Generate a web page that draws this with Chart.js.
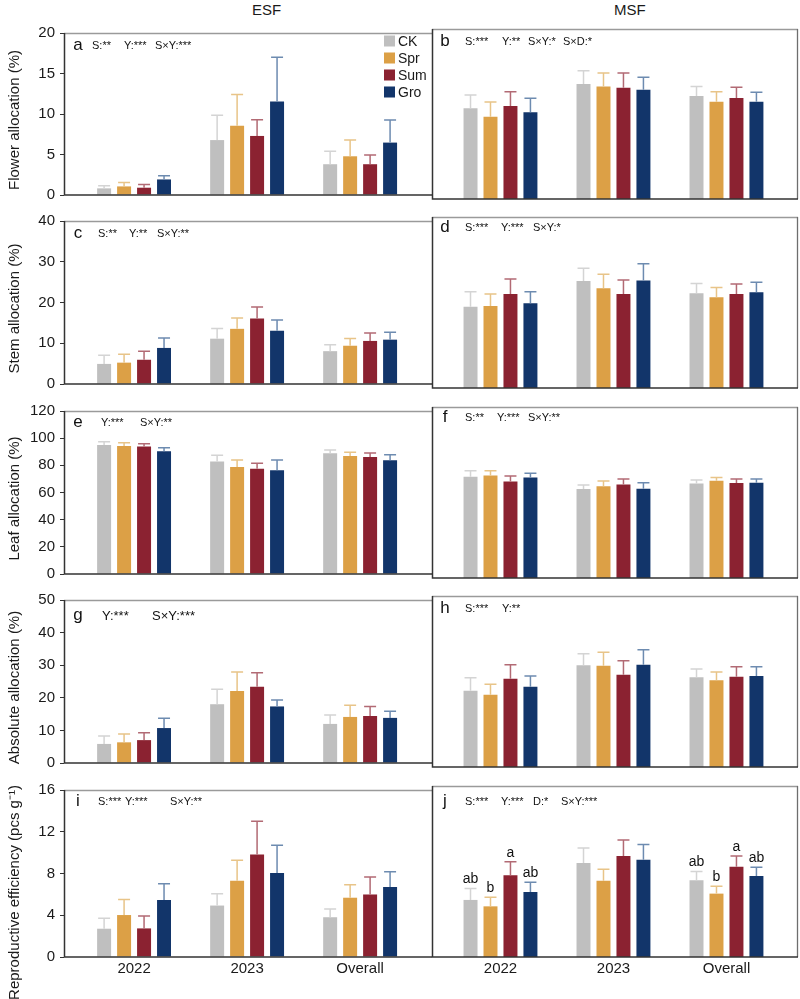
<!DOCTYPE html>
<html>
<head>
<meta charset="utf-8">
<script src="https://cdn.jsdelivr.net/npm/chart.js@4.4.1/dist/chart.umd.min.js"></script>
<style>
  body { margin: 0; background: #fff; width: 800px; height: 999px; position: relative; overflow: hidden;
         font-family: "Liberation Sans", Arial, sans-serif; }
  canvas { position: absolute; }
  .hdr { position: absolute; top: 1px; font-size: 15px; color: #1a1a1a; }
</style>
</head>
<body>
<div class="hdr" style="left:252px">ESF</div>
<div class="hdr" style="left:614px">MSF</div>
<script>
const years = ['2022', '2023', 'Overall'];
const treatments = ['CK', 'Spr', 'Sum', 'Gro'];
const barColors = ['#bfbfbf', '#dca046', '#8b2231', '#12356a'];
const errColors = ['#d4d4d4', '#e8c488', '#b26a74', '#6d8bb0'];

// rows of every array: CK, Spr, Sum, Gro ; columns: 2022, 2023, Overall
// a - flower allocation, ESF
const aMean = [[0.82, 6.78, 3.80], [1.06, 8.55, 4.78], [0.90, 7.29, 3.80], [1.92, 11.53, 6.47]];
const aErr  = [[0.32, 3.06, 1.61], [0.47, 3.85, 2.00], [0.39, 2.00, 1.14], [0.47, 5.47, 2.78]];
// b - flower allocation, MSF
const bMean = [[10.67, 13.53, 12.12], [9.69, 13.25, 11.45], [10.94, 13.10, 11.88], [10.20, 12.86, 11.45]];
const bErr  = [[1.57, 1.57, 1.13], [1.72, 1.57, 1.18], [1.69, 1.72, 1.26], [1.64, 1.45, 1.10]];
// c - stem allocation, ESF
const cMean = [[4.93, 11.12, 8.06], [5.24, 13.54, 9.39], [5.95, 16.05, 10.57], [8.85, 13.07, 10.88]];
const cErr  = [[2.12, 2.50, 1.57], [2.04, 2.66, 1.80], [2.11, 2.82, 1.95], [2.42, 2.66, 1.80]];
// d - stem allocation, MSF
const dMean = [[19.02, 25.05, 22.15], [19.18, 23.33, 21.21], [22.00, 22.00, 22.00], [19.80, 25.13, 22.39]];
const dErr  = [[3.52, 2.97, 2.27], [2.82, 3.28, 2.27], [3.52, 3.28, 2.34], [2.74, 3.91, 2.35]];
// e - leaf allocation, ESF
const eMean = [[95.0, 82.8, 88.9], [94.3, 78.8, 86.8], [93.8, 77.4, 86.1], [90.3, 76.3, 83.7]];
const eErr  = [[2.3, 4.7, 2.3], [2.3, 5.2, 2.8], [2.1, 4.2, 3.0], [2.6, 7.7, 4.0]];
// f - leaf allocation, MSF
const fMean = [[71.1, 62.5, 66.4], [72.0, 64.3, 68.3], [67.8, 65.7, 66.7], [70.6, 62.7, 66.9]];
const fErr  = [[4.2, 2.8, 2.4], [3.3, 3.8, 2.3], [3.8, 3.8, 2.8], [2.9, 4.2, 2.6]];
// g - absolute allocation, ESF
const gMean = [[5.85, 18.03, 11.99], [6.34, 22.12, 14.13], [7.02, 23.39, 14.42], [10.72, 17.35, 13.84]];
const gErr  = [[2.43, 4.58, 2.73], [2.53, 5.76, 3.61], [2.24, 4.29, 2.93], [3.02, 1.95, 2.05]];
// h - absolute allocation, MSF
const hMean = [[22.32, 29.73, 26.22], [21.15, 29.63, 25.34], [25.83, 27.00, 26.41], [23.49, 29.92, 26.61]];
const hErr  = [[3.80, 3.41, 2.43], [3.02, 3.90, 2.44], [4.09, 4.09, 2.93], [3.12, 4.39, 2.73]];
// i - reproductive efficiency, ESF
const iMean = [[2.71, 4.93, 3.81], [4.02, 7.30, 5.68], [2.74, 9.82, 5.99], [5.46, 8.05, 6.71]];
const iErr  = [[1.00, 1.12, 0.78], [1.50, 1.96, 1.24], [1.19, 3.18, 1.68], [1.56, 2.65, 1.46]];
// j - reproductive efficiency, MSF
const jMean = [[5.34, 8.80, 7.17], [4.74, 7.14, 5.93], [7.64, 9.45, 8.45], [6.08, 9.11, 7.58]];
const jErr  = [[1.06, 1.40, 0.84], [0.84, 1.06, 0.68], [1.28, 1.50, 1.00], [0.91, 1.41, 0.81]];
const jLetters = [['ab', '', 'ab'], ['b', '', 'b'], ['a', '', 'a'], ['ab', '', 'ab']];

const yTitles = ['Flower allocation (%)', 'Stem allocation (%)', 'Leaf allocation (%)',
                 'Absolute allocation (%)', 'Reproductive efficiency (pcs g\u207B\u00B9)'];
const yMax = [20, 40, 120, 50, 16];
const yStep = [5, 10, 20, 10, 4];

const stats = {
  a: ['S:**', 'Y:***', 'S\u00D7Y:***'],
  b: ['S:***', 'Y:**', 'S\u00D7Y:*', 'S\u00D7D:*'],
  c: ['S:**', 'Y:**', 'S\u00D7Y:**'],
  d: ['S:***', 'Y:***', 'S\u00D7Y:*'],
  e: ['Y:***', 'S\u00D7Y:**'],
  f: ['S:**', 'Y:***', 'S\u00D7Y:**'],
  g: ['Y:***', 'S\u00D7Y:***'],
  h: ['S:***', 'Y:**'],
  i: ['S:***', 'Y:***', 'S\u00D7Y:**'],
  j: ['S:***', 'Y:***', 'D:*', 'S\u00D7Y:***'],
};

// layout
const rowTop = [29, 217, 407, 596, 786];
const rowH = [170, 171, 171, 171, 171];
const statsX = {
  a: [28, 60, 91], b: [33, 70, 96, 131], c: [34, 65, 93], d: [33, 69, 101], e: [37, 76],
  f: [33, 65, 96], g: [38, 88], h: [33, 70], i: [34, 61, 106], j: [33, 69, 101, 129],
};
const statsY = { a: 13, b: 13, c: 13, d: 11, e: 12, f: 11, g: 16, h: 13, i: 12, j: 16 };
const FONT = '"Liberation Sans", Arial, sans-serif';

const framePlugin = {
  id: 'frame',
  afterDatasetsDraw(chart, args, opts) {
    const { ctx, chartArea: a } = chart;
    ctx.save();
    ctx.lineWidth = 1.3;
    ctx.strokeStyle = '#9a9a9a';
    ctx.beginPath(); ctx.moveTo(a.left, a.top + 0.5); ctx.lineTo(a.right, a.top + 0.5); ctx.stroke();
    if (opts.right) {
      ctx.strokeStyle = '#6e6e6e';
      ctx.beginPath(); ctx.moveTo(a.right - 0.5, a.top); ctx.lineTo(a.right - 0.5, a.bottom); ctx.stroke();
    }
    ctx.strokeStyle = '#333';
    ctx.lineWidth = 1.5;
    ctx.beginPath();
    ctx.moveTo(a.left + 0.5, a.top);
    ctx.lineTo(a.left + 0.5, a.bottom);
    ctx.lineTo(a.right, a.bottom);
    ctx.stroke();
    ctx.restore();
  },
};

const errorBarPlugin = {
  id: 'errorBars',
  afterDatasetsDraw(chart) {
    const { ctx } = chart;
    const yScale = chart.scales.y;
    chart.data.datasets.forEach((ds, k) => {
      const meta = chart.getDatasetMeta(k);
      meta.data.forEach((bar, i) => {
        const top = yScale.getPixelForValue(ds.data[i].y + ds.err[i]);
        const half = bar.width / 2 - 1;
        ctx.save();
        ctx.strokeStyle = ds.errColor;
        ctx.lineWidth = 1.5;
        ctx.beginPath();
        ctx.moveTo(bar.x, bar.y);
        ctx.lineTo(bar.x, top);
        ctx.moveTo(bar.x - half, top);
        ctx.lineTo(bar.x + half, top);
        ctx.stroke();
        if (ds.letters && ds.letters[i]) {
          ctx.fillStyle = '#111';
          ctx.font = '14px ' + FONT;
          ctx.textAlign = 'center';
          ctx.textBaseline = 'bottom';
          ctx.fillText(ds.letters[i], bar.x, top - 2);
        }
        ctx.restore();
      });
    });
  },
};

const notesPlugin = {
  id: 'notes',
  afterDraw(chart, args, o) {
    const { ctx, chartArea: a } = chart;
    ctx.save();
    ctx.fillStyle = '#111';
    ctx.textBaseline = 'middle';
    ctx.textAlign = 'center';
    ctx.font = '17px ' + FONT;
    ctx.fillText(o.letter, a.left + o.letterX, a.top + o.y - 1);
    ctx.textAlign = 'left';
    ctx.font = o.size + 'px ' + FONT;
    o.items.forEach((t, n) => ctx.fillText(t, a.left + o.xs[n], a.top + o.y));

    // y title
    if (o.yTitle) {
      ctx.save();
      ctx.translate(15, (a.top + a.bottom) / 2 + o.titleShift);
      ctx.rotate(-Math.PI / 2);
      ctx.textAlign = 'center';
      ctx.font = '15px ' + FONT;
      ctx.fillStyle = '#1a1a1a';
      ctx.fillText(o.yTitle, 0, 0);
      ctx.restore();
    }

    // legend (panel a only)
    if (o.legend) {
      ctx.font = '14px ' + FONT;
      chart.data.datasets.forEach((ds, k) => {
        const cy = a.top + 8 + k * 17;
        ctx.fillStyle = ds.backgroundColor;
        ctx.fillRect(a.left + 320, cy - 5.5, 11, 11);
        ctx.fillStyle = '#1a1a1a';
        ctx.fillText(ds.label, a.left + 334, cy + 1);
      });
    }
    ctx.restore();
  },
};

function makePanel(key, row, side, mean, err, letters) {
  const last = row === 4;
  const padTop = 10;
  const padBottom = 10;
  const axisH = last ? 32 : 0;
  const left = side === 0 ? 0 : 431;
  const width = side === 0 ? 433 : 369;
  const height = padTop + rowH[row] + axisH + padBottom;
  const cv = document.createElement('canvas');
  cv.width = width;
  cv.height = height;
  cv.style.left = left + 'px';
  cv.style.top = (rowTop[row] - padTop) + 'px';
  cv.style.width = width + 'px';
  cv.style.height = height + 'px';
  document.body.appendChild(cv);

  new Chart(cv, {
    type: 'bar',
    data: {
      datasets: treatments.map((t, k) => ({
        label: t,
        data: years.map((_, i) => ({ x: i, y: mean[k][i] })),
        err: err[k],
        letters: letters ? letters[k] : null,
        backgroundColor: barColors[k],
        errColor: errColors[k],
        borderWidth: 0,
      })),
    },
    options: {
      responsive: false,
      animation: false,
      events: [],
      categoryPercentage: 0.707,
      barPercentage: 0.7,
      layout: { padding: { top: padTop, bottom: padBottom, left: side ? 1 : 0, right: side ? 2 : 1 } },
      scales: {
        x: {
          type: 'linear',
          offset: false,
          min: side ? -0.606 : -0.62,
          max: side ? 2.633 : 2.636,
          grid: { display: false, drawTicks: false, offset: false },
          border: { display: false },
          afterBuildTicks: (s) => { s.ticks = years.map((_, i) => ({ value: i })); },
          afterFit: (s) => { s.height = axisH; },
          ticks: {
            display: last,
            autoSkip: false,
            maxRotation: 0,
            padding: 3,
            color: '#1a1a1a',
            font: { size: 15, family: FONT },
            callback: (v) => years[v],
          },
        },
        y: {
          display: side === 0,
          min: 0,
          max: yMax[row],
          afterFit: (s) => { s.width = side === 0 ? 64 : 0; },
          grid: { drawOnChartArea: false, drawTicks: true, tickLength: 4, color: '#333' },
          border: { display: false },
          ticks: {
            stepSize: yStep[row],
            padding: 5,
            color: '#1a1a1a',
            font: { size: 15, family: FONT },
          },
        },
      },
      plugins: {
        legend: { display: false },
        tooltip: { enabled: false },
        frame: { right: side === 1 },
        notes: {
          letter: key,
          letterX: side ? 13 : 14,
          y: statsY[key],
          items: stats[key],
          xs: statsX[key],
          size: key === 'g' ? 13 : 11,
          yTitle: side === 0 ? yTitles[row] : null,
          titleShift: last ? 19 : 6,
          legend: key === 'a',
        },
      },
    },
    plugins: [framePlugin, errorBarPlugin, notesPlugin],
  });
}

makePanel('a', 0, 0, aMean, aErr);
makePanel('b', 0, 1, bMean, bErr);
makePanel('c', 1, 0, cMean, cErr);
makePanel('d', 1, 1, dMean, dErr);
makePanel('e', 2, 0, eMean, eErr);
makePanel('f', 2, 1, fMean, fErr);
makePanel('g', 3, 0, gMean, gErr);
makePanel('h', 3, 1, hMean, hErr);
makePanel('i', 4, 0, iMean, iErr);
makePanel('j', 4, 1, jMean, jErr, jLetters);
</script>
</body>
</html>
